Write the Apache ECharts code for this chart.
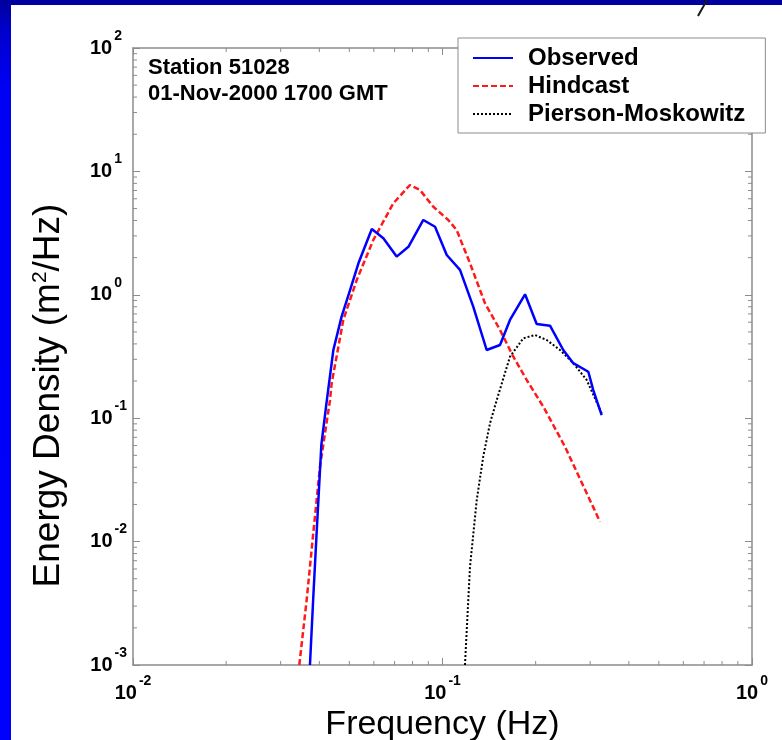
<!DOCTYPE html>
<html><head><meta charset="utf-8">
<script src="https://cdn.jsdelivr.net/npm/echarts@6/dist/echarts.min.js"></script>
<style>html,body{margin:0;padding:0;background:#fff;} #c{width:782px;height:740px;}</style>
</head><body><div id="c"></div>
<script>
// ---- data ----
const obsFreq = [0.0373, 0.0382, 0.0392, 0.0406, 0.0423, 0.0444, 0.0472, 0.0503, 0.0535, 0.0591, 0.0644, 0.0711, 0.0776, 0.0867, 0.0946, 0.1032, 0.1139, 0.1257, 0.1389, 0.1534, 0.1652, 0.1848, 0.2015, 0.2225, 0.2456, 0.2646, 0.2959, 0.3070, 0.3268];
const obsDensity = [0.001, 0.00336, 0.01175, 0.0607, 0.140, 0.357, 0.665, 1.094, 1.80, 3.41, 2.87, 2.04, 2.45, 4.04, 3.56, 2.10, 1.59, 0.801, 0.357, 0.392, 0.625, 1.01, 0.580, 0.562, 0.357, 0.279, 0.238, 0.169, 0.106];
const hindFreq = [0.03446, 0.03640, 0.03824, 0.04020, 0.04330, 0.04385, 0.04780, 0.05282, 0.05976, 0.06934, 0.07852, 0.08461, 0.09339, 0.1044, 0.1111, 0.1227, 0.1372, 0.1534, 0.1694, 0.1871, 0.2117, 0.2488, 0.3228];
const hindDensity = [0.001, 0.00336, 0.01175, 0.0405, 0.140, 0.192, 0.625, 1.318, 2.78, 5.51, 7.76, 7.06, 5.17, 4.04, 3.35, 1.80, 0.853, 0.519, 0.315, 0.204, 0.124, 0.0587, 0.01449];
const pmFreq = [0.1182, 0.1227, 0.1290, 0.1354, 0.1424, 0.1497, 0.1652, 0.1824, 0.1990, 0.2172, 0.2397, 0.2646, 0.2923, 0.3268];
const pmDensity = [0.001, 0.00626, 0.0217, 0.0488, 0.0910, 0.1403, 0.315, 0.444, 0.472, 0.430, 0.357, 0.279, 0.204, 0.1096];
const seriesNames = ['Observed', 'Hindcast', 'Pierson-Moskowitz'];
const annotationLines = ['Station 51028', '01-Nov-2000 1700 GMT'];
const xTitle = 'Frequency (Hz)';
const yTitle = 'Energy Density (m{sup|2}/Hz)';
const xRange = [0.01, 1];
const yRange = [0.001, 100];

// ---- build ----
const fam = '"Liberation Sans", Arial, Helvetica, sans-serif';
const pairs = (xs, ys) => xs.map((x, i) => [x, ys[i]]);
const expOf = v => Math.round(Math.log10(v));
const fmtX = v => '{b|10}{s|' + expOf(v) + '}';
const fmtY = v => { const e = String(expOf(v)); return '{b|10}{' + (e.length > 1 ? 's2' : 's1') + '|' + e + '}'; };
const bStyle = {fontSize: 20, fontWeight: 'bold', fontFamily: fam, color: '#000', padding: [9, 0, 9, 0]};
const sStyle = {fontSize: 14, fontWeight: 'bold', fontFamily: fam, color: '#000', verticalAlign: 'top', padding: [0, 0, 0, 2]};
const xRich = {b: bStyle, s: sStyle};
const yRich = {
  b: bStyle,
  s1: Object.assign({}, sStyle, {padding: [0, 6, 0, 2]}),
  s2: Object.assign({}, sStyle, {padding: [0, 1, 0, 2]})
};
const axisGrey = '#8c8c8c';

const minorX = [], minorY = [];
for (let e = -2; e < 0; e++) for (let k = 2; k < 10; k++) minorX.push(k * Math.pow(10, e));
for (let e = -3; e < 2; e++) for (let k = 2; k < 10; k++) minorY.push(k * Math.pow(10, e));
const tickData = minorX.map(v => [v, 1, 0]).concat(minorY.map(v => [0.1, v, 1]));

function mkX(pos, showLabel) {
  return {
    type: 'log', logBase: 10, min: xRange[0], max: xRange[1], position: pos,
    axisLine: {show: true, onZero: false, lineStyle: {color: axisGrey, width: 1.5}},
    axisTick: {show: true, inside: true, length: 7, lineStyle: {color: axisGrey, width: 1}},
    axisLabel: showLabel ? {show: true, formatter: fmtX, rich: xRich, margin: 9} : {show: false},
    splitLine: {show: false}, minorTick: {show: false},
    name: showLabel ? xTitle : '', nameLocation: 'middle', nameGap: 29,
    nameTextStyle: {fontSize: 34, fontFamily: fam, color: '#000'}
  };
}
function mkY(pos, showLabel) {
  return {
    type: 'log', logBase: 10, min: yRange[0], max: yRange[1], position: pos,
    axisLine: {show: true, onZero: false, lineStyle: {color: axisGrey, width: 1.5}},
    axisTick: {show: true, inside: true, length: 7, lineStyle: {color: axisGrey, width: 1}},
    axisLabel: showLabel ? {show: true, formatter: fmtY, rich: yRich, margin: 5, align: 'right'} : {show: false},
    splitLine: {show: false},
    name: showLabel ? yTitle : '', nameLocation: 'middle', nameGap: 66, nameRotate: 90,
    nameTextStyle: {fontSize: 37, fontFamily: fam, color: '#000', padding: [0, 78, 0, 0],
      rich: {sup: {fontSize: 21, fontFamily: fam, color: '#000', verticalAlign: 'top'}}}
  };
}

const chart = echarts.init(document.getElementById('c'), null, {renderer: 'canvas', width: 782, height: 740});
chart.setOption({
  animation: false,
  backgroundColor: new echarts.graphic.LinearGradient(0, 0, 0, 1, [
    {offset: 0, color: '#00009c'}, {offset: 0.04, color: '#0000cc'}, {offset: 0.12, color: '#0000f5'}, {offset: 1, color: '#0000ff'}
  ]),
  grid: {left: 133, right: 30, top: 48, bottom: 75, containLabel: false, outerBoundsMode: 'none'},
  xAxis: [mkX('bottom', true), mkX('top', false)],
  yAxis: [mkY('left', true), mkY('right', false)],
  legend: {
    data: seriesNames, orient: 'vertical', left: 458, top: 38,
    itemWidth: 40, itemHeight: 14, itemGap: 4, padding: [8, 20, 7, 14],
    backgroundColor: '#fff', borderColor: '#8c8c8c', borderWidth: 1, borderRadius: 0,
    selectedMode: false, z: 20,
    itemStyle: {opacity: 0, color: 'transparent', borderWidth: 0},
    textStyle: {fontSize: 24, fontWeight: 'bold', fontFamily: fam, color: '#000', padding: [0, 0, 0, 10]}
  },
  graphic: [
    {type: 'rect', z: -100, silent: true, shape: {x: 11, y: 5, width: 771, height: 735}, style: {fill: '#fff'}},
    {type: 'line', z: 50, silent: true, shape: {x1: 707, y1: 0, x2: 698, y2: 16}, style: {stroke: '#1a1a1a', lineWidth: 2}},
    {type: 'text', z: 10, left: 148, top: 55, silent: true,
      style: {text: annotationLines.join('\n'), font: 'bold 22px "Liberation Sans", Arial, sans-serif', lineHeight: 26, fill: '#000'}}
  ],
  series: [
    {name: seriesNames[0], type: 'line', data: pairs(obsFreq, obsDensity), symbol: 'none', clip: true, z: 5,
      lineStyle: {color: '#0000ff', width: 2.5}, itemStyle: {color: '#0000ff'}},
    {name: seriesNames[1], type: 'line', data: pairs(hindFreq, hindDensity), symbol: 'none', clip: true, z: 4,
      lineStyle: {color: '#ff1a1a', width: 2.5, type: [6, 3]}, itemStyle: {color: '#ff1a1a'}},
    {name: seriesNames[2], type: 'line', data: pairs(pmFreq, pmDensity), symbol: 'none', clip: true, z: 3,
      lineStyle: {color: '#000', width: 2, type: [2, 2]}, itemStyle: {color: '#000'}},
    {type: 'custom', silent: true, clip: false, z: 2, data: tickData, encode: {x: 0, y: 1},
      renderItem: function (params, api) {
        const kind = api.value(2);
        const L = 4;
        const st = {stroke: axisGrey, lineWidth: 1};
        if (kind === 0) {
          const v = api.value(0);
          const a = api.coord([v, yRange[0]]), b = api.coord([v, yRange[1]]);
          return {type: 'group', children: [
            {type: 'line', shape: {x1: a[0], y1: a[1], x2: a[0], y2: a[1] - L}, style: st},
            {type: 'line', shape: {x1: b[0], y1: b[1], x2: b[0], y2: b[1] + L}, style: st}
          ]};
        }
        const v = api.value(1);
        const a = api.coord([xRange[0], v]), b = api.coord([xRange[1], v]);
        return {type: 'group', children: [
          {type: 'line', shape: {x1: a[0], y1: a[1], x2: a[0] + L, y2: a[1]}, style: st},
          {type: 'line', shape: {x1: b[0], y1: b[1], x2: b[0] - L, y2: b[1]}, style: st}
        ]};
      }}
  ]
});
</script></body></html>
